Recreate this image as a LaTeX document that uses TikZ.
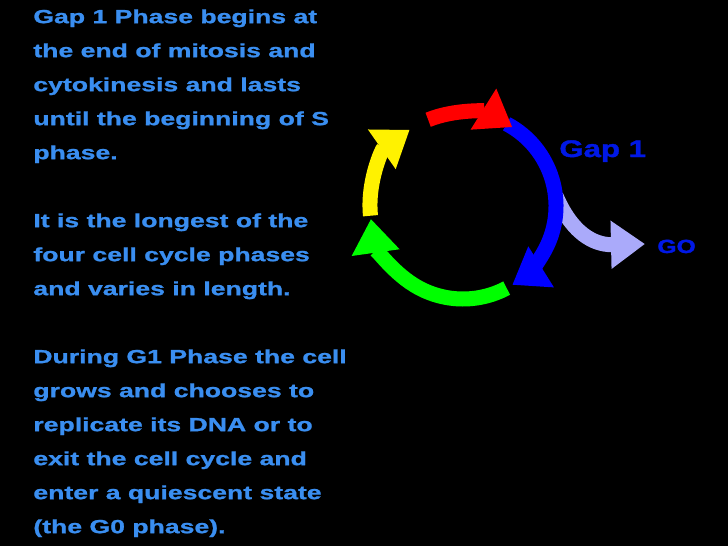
\documentclass[tikz,border=0pt]{standalone}
\usepackage{fontspec}
\setmainfont{Liberation Sans}
\newfontfamily\widefont[FakeStretch=1.4,FakeBold=1.2]{Liberation Sans Bold}
\newfontfamily\labelfont[FakeStretch=1.3,FakeBold=1.5]{Liberation Sans Bold}
\usetikzlibrary{arrows.meta}
\definecolor{textblue}{RGB}{58,142,240}
\definecolor{gapblue}{RGB}{0,24,230}
\definecolor{lav}{RGB}{170,170,250}
\tikzset{every picture/.style={line width=0.75pt}}
\tikzset{
  phasearc/.style={line width=15pt, -{Triangle[length=34pt,width=46pt]}},
  bodytext/.style={anchor=north west, inner sep=0pt, align=left, text=textblue,
    font=\widefont\fontsize{19}{34}\selectfont}
}
\begin{document}
\begin{tikzpicture}[x=1pt,y=1pt,yscale=-1]
    % background
    \fill [black] (0,0) rectangle (728,546);
    \useasboundingbox (0,0) rectangle (728,546);
    \coordinate (ctr) at (463,206);

    %Arcs of the cycle
    \draw [phasearc, color=lav] (556,196) .. controls (575,240) and (600,245) .. (645,244) ;
    \draw [phasearc, color=blue] ([shift={(-62:93)}]ctr) arc [start angle=-62, end angle=58, radius=93] ;
    \draw [phasearc, color=green] ([shift={(62:93)}]ctr) arc [start angle=62, end angle=172, radius=93] ;
    \draw [phasearc, color=yellow] ([shift={(-186:93)}]ctr) arc [start angle=-186, end angle=-125, radius=93] ;
    \draw [phasearc, color=red] ([shift={(-112:93)}]ctr) arc [start angle=-112, end angle=-58, radius=93] ;

    % Text Node
    \node (desc) [bodytext] at (33,9) {Gap 1 Phase begins at\\the end of mitosis and\\cytokinesis and lasts\\until the beginning of S\\phase.\\[34pt]It is the longest of the\\four cell cycle phases\\and varies in length.\\[34pt]During G1 Phase the cell\\grows and chooses to\\replicate its DNA or to\\exit the cell cycle and\\enter a quiescent state\\(the G0 phase).};
    % Text Node
    \node (gap) [anchor=base west, inner sep=0pt, text=gapblue, font=\labelfont\fontsize{24}{28}\selectfont] at (559,157) {Gap 1};
    % Text Node
    \node (go) [anchor=base west, inner sep=0pt, text=gapblue, font=\labelfont\fontsize{19}{22}\selectfont] at (657,253) {GO};
\end{tikzpicture}
\end{document}
